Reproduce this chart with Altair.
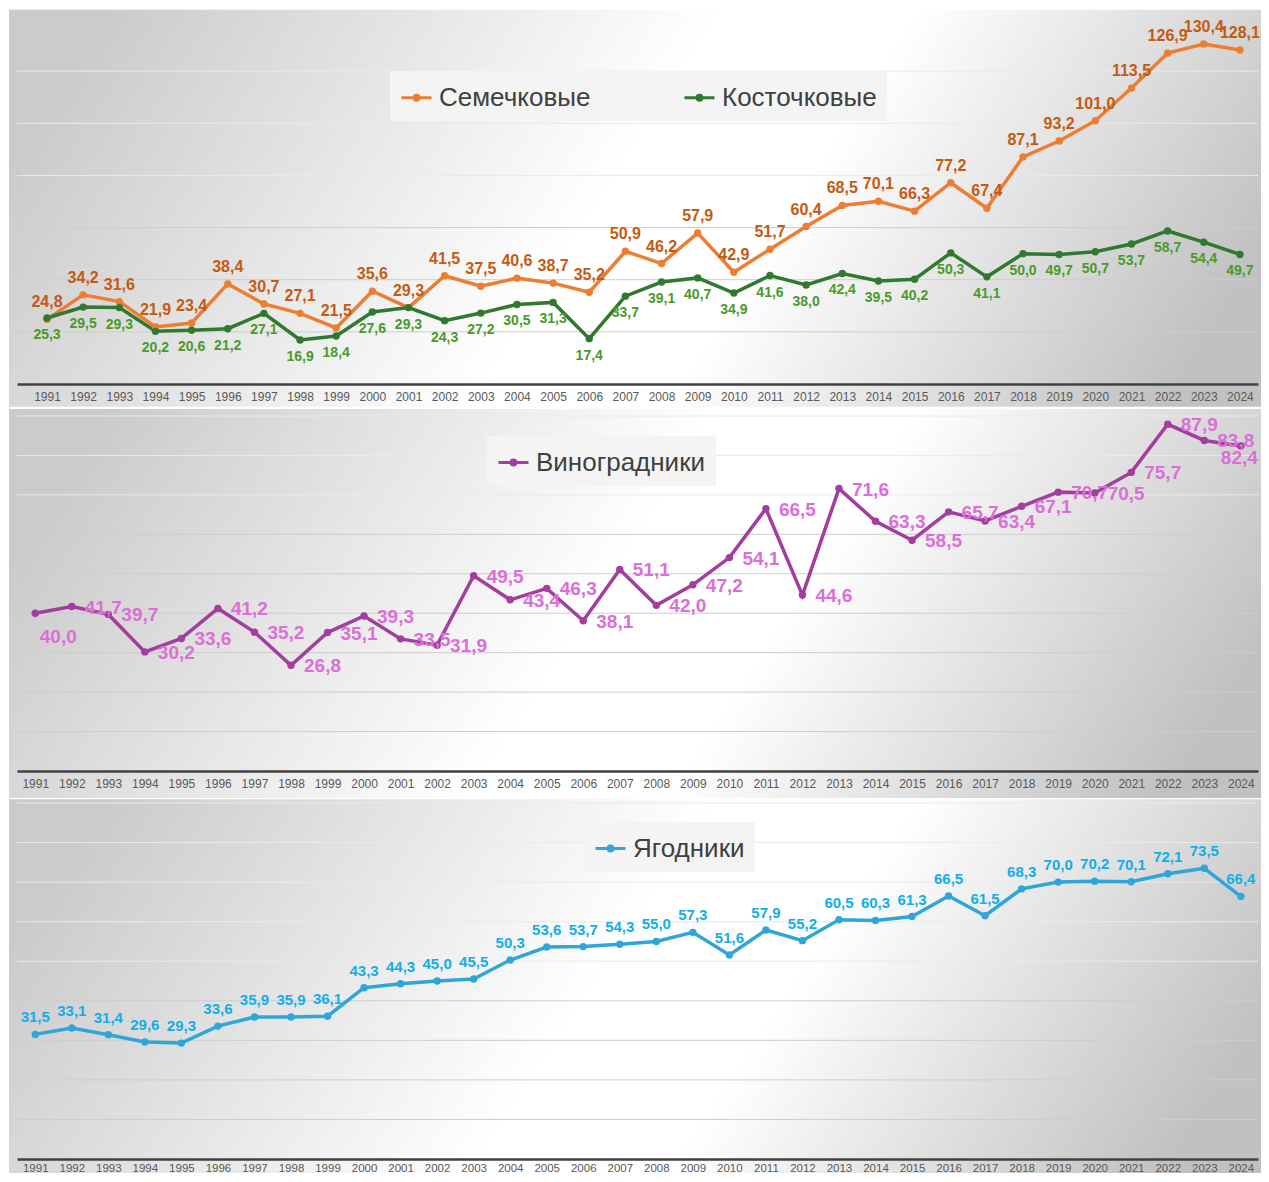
import altair as alt
import pandas as pd

# ---------------- data ----------------
years = list(range(1991, 2025))
pome = [24.8, 34.2, 31.6, 21.9, 23.4, 38.4, 30.7, 27.1, 21.5, 35.6, 29.3, 41.5, 37.5, 40.6, 38.7,
        35.2, 50.9, 46.2, 57.9, 42.9, 51.7, 60.4, 68.5, 70.1, 66.3, 77.2, 67.4, 87.1, 93.2, 101.0,
        113.5, 126.9, 130.4, 128.1]
stone = [25.3, 29.5, 29.3, 20.2, 20.6, 21.2, 27.1, 16.9, 18.4, 27.6, 29.3, 24.3, 27.2, 30.5, 31.3,
         17.4, 33.7, 39.1, 40.7, 34.9, 41.6, 38.0, 42.4, 39.5, 40.2, 50.3, 41.1, 50.0, 49.7, 50.7,
         53.7, 58.7, 54.4, 49.7]
grapes = [40.0, 41.7, 39.7, 30.2, 33.6, 41.2, 35.2, 26.8, 35.1, 39.3, 33.5, 31.9, 49.5, 43.4, 46.3,
          38.1, 51.1, 42.0, 47.2, 54.1, 66.5, 44.6, 71.6, 63.3, 58.5, 65.7, 63.4, 67.1, 70.7, 70.5,
          75.7, 87.9, 83.8, 82.4]
berries = [31.5, 33.1, 31.4, 29.6, 29.3, 33.6, 35.9, 35.9, 36.1, 43.3, 44.3, 45.0, 45.5, 50.3, 53.6,
           53.7, 54.3, 55.0, 57.3, 51.6, 57.9, 55.2, 60.5, 60.3, 61.3, 66.5, 61.5, 68.3, 70.0, 70.2,
           70.1, 72.1, 73.5, 66.4]

series_names = ["Семечковые", "Косточковые", "Виноградники", "Ягодники"]
line_colors = ["#ed7d31", "#2f7a30", "#a33d9e", "#2ea6da"]
label_colors = ["#c55a11", "#4a9a2b", "#dc6fd7", "#12aee9"]

top_grid = [20, 40, 60, 80, 100, 120]
lower_grid = [10, 20, 30, 40, 50, 60, 70, 80, 90]

# ---------------- helpers ----------------
FONT = "Liberation Sans"
W = 1241
LEG_PATH = "M-1,0L1,0M0.16,0A0.16,0.16,0,1,1,-0.16,0A0.16,0.16,0,1,1,0.16,0Z"


def make_df(name, values):
    return pd.DataFrame({
        "year": years,
        "value": values,
        "series": name,
        "label": [f"{v:.1f}".replace(".", ",") for v in values],
    })


BG_FILL = alt.LinearGradient(
    gradient="linear", x1=0, y1=0.4, x2=1, y2=0.6,
    stops=[alt.GradientStop(offset=0, color="#cbcbcb"),
           alt.GradientStop(offset=0.47, color="#ffffff"),
           alt.GradientStop(offset=0.62, color="#ffffff"),
           alt.GradientStop(offset=1, color="#c1c1c1")])


def x_axis(pad=7, size=12):
    return alt.Axis(values=years, format="d", title=None, ticks=False, grid=False,
                    labelFont=FONT, labelFontSize=size, labelColor="#595959", labelPadding=pad,
                    domainColor="#404040", domainWidth=2.5, labelFlush=False,
                    labelOverlap=False, zindex=1)


def background(y_top, y_bot):
    return alt.Chart(pd.DataFrame({"k": [0]})).mark_rect(fill=BG_FILL, strokeWidth=0).encode(
        x=alt.value(-8), x2=alt.value(1244), y=alt.value(y_top), y2=alt.value(y_bot))


def grid(values, yscale, light_from):
    return alt.Chart(pd.DataFrame({"g": values})).mark_rule(strokeWidth=1).encode(
        y=alt.Y("g:Q", scale=yscale, axis=None),
        x=alt.value(0), x2=alt.value(W),
        color=alt.condition(f"datum.g >= {light_from}", alt.value("#eaeaea"), alt.value("#cdcdcd")))


def lines(df, xscale, yscale, names, colors, legend, axis):
    return alt.Chart(df).mark_line(
        strokeWidth=3.5, point=alt.OverlayMarkDef(filled=True, size=55)).encode(
        x=alt.X("year:Q", scale=xscale, axis=axis),
        y=alt.Y("value:Q", scale=yscale, axis=None),
        color=alt.Color("series:N", scale=alt.Scale(domain=names, range=colors), legend=legend))


def labels(df, name, xscale, yscale, color, size, axis, **kw):
    return alt.Chart(df).transform_filter(alt.datum.series == name).mark_text(
        font=FONT, fontSize=size, fontWeight="bold", color=color, **kw).encode(
        x=alt.X("year:Q", scale=xscale, axis=axis),
        y=alt.Y("value:Q", scale=yscale, axis=None),
        text="label:N")


def legend(x, y, colpad=10):
    return alt.Legend(orient="none", legendX=x, legendY=y, direction="horizontal", title=None,
                      labelFont=FONT, labelFontSize=26, labelColor="#404040", labelLimit=500,
                      symbolType=LEG_PATH, symbolSize=900, symbolStrokeWidth=3,
                      labelOffset=6, columnPadding=colpad, padding=10, fillColor="#f4f4f4")


# ---------------- top panel ----------------
ax_top = x_axis()
df_top = pd.concat([make_df(series_names[0], pome), make_df(series_names[1], stone)])
xs_top = alt.Scale(domain=[1990.17, 2024.5], nice=False, zero=False)
ys_top = alt.Scale(domain=[0, 140], nice=False, zero=True)
top = alt.layer(
    background(-9.3, 387.7),
    grid(top_grid, ys_top, 70),
    lines(df_top, xs_top, ys_top, series_names[:2], line_colors[:2], legend(373, 52, 87), ax_top),
    labels(df_top, series_names[0], xs_top, ys_top, label_colors[0], 16, ax_top,
           dy=-12, baseline="alphabetic"),
    labels(df_top, series_names[1], xs_top, ys_top, label_colors[1], 14, ax_top,
           dy=21, baseline="alphabetic"),
).properties(width=W, height=365)

# ---------------- middle panel ----------------
ax_mid = x_axis()
df_mid = make_df(series_names[2], grapes)
xs_low = alt.Scale(domain=[1990.5, 2024.47], nice=False, zero=False)
ys_mid = alt.Scale(domain=[0, 90], nice=False, zero=True)
mid = alt.layer(
    background(-7, 382),
    grid(lower_grid, ys_mid, 65),
    lines(df_mid, xs_low, ys_mid, [series_names[2]], [line_colors[2]], legend(470, 20), ax_mid),
    labels(df_mid[(df_mid.year > 1991) & (df_mid.year < 2024)], series_names[2], xs_low, ys_mid,
           label_colors[2], 19, ax_mid, dx=13, dy=1, align="left", baseline="middle"),
    labels(df_mid[df_mid.year == 1991], series_names[2], xs_low, ys_mid, label_colors[2], 19,
           ax_mid, dx=23, dy=24, align="center", baseline="middle"),
    labels(df_mid[df_mid.year == 2024], series_names[2], xs_low, ys_mid, label_colors[2], 19,
           ax_mid, dx=-20, dy=12, align="left", baseline="middle"),
).properties(width=W, height=355)

# ---------------- bottom panel ----------------
ax_bot = x_axis(pad=3, size=11.5)
df_bot = make_df(series_names[3], berries)
ys_bot = alt.Scale(domain=[0, 90], nice=False, zero=True)
bot = alt.layer(
    background(-3.7, 370),
    grid(lower_grid, ys_bot, 45),
    lines(df_bot, xs_low, ys_bot, [series_names[3]], [line_colors[3]], legend(567, 19), ax_bot),
    labels(df_bot, series_names[3], xs_low, ys_bot, label_colors[3], 15, ax_bot,
           dy=-12, baseline="alphabetic"),
).properties(width=W, height=356)

chart = alt.vconcat(top, mid, bot, spacing=32, bounds="flush").resolve_scale(
    color="independent", x="independent", y="independent"
).resolve_legend(color="independent").configure(
    padding={"left": 1, "top": 1, "right": 0, "bottom": 0}, background="white"
).configure_view(strokeWidth=0)

chart.save("out.html", embed_options={"renderer": "svg", "actions": False})
